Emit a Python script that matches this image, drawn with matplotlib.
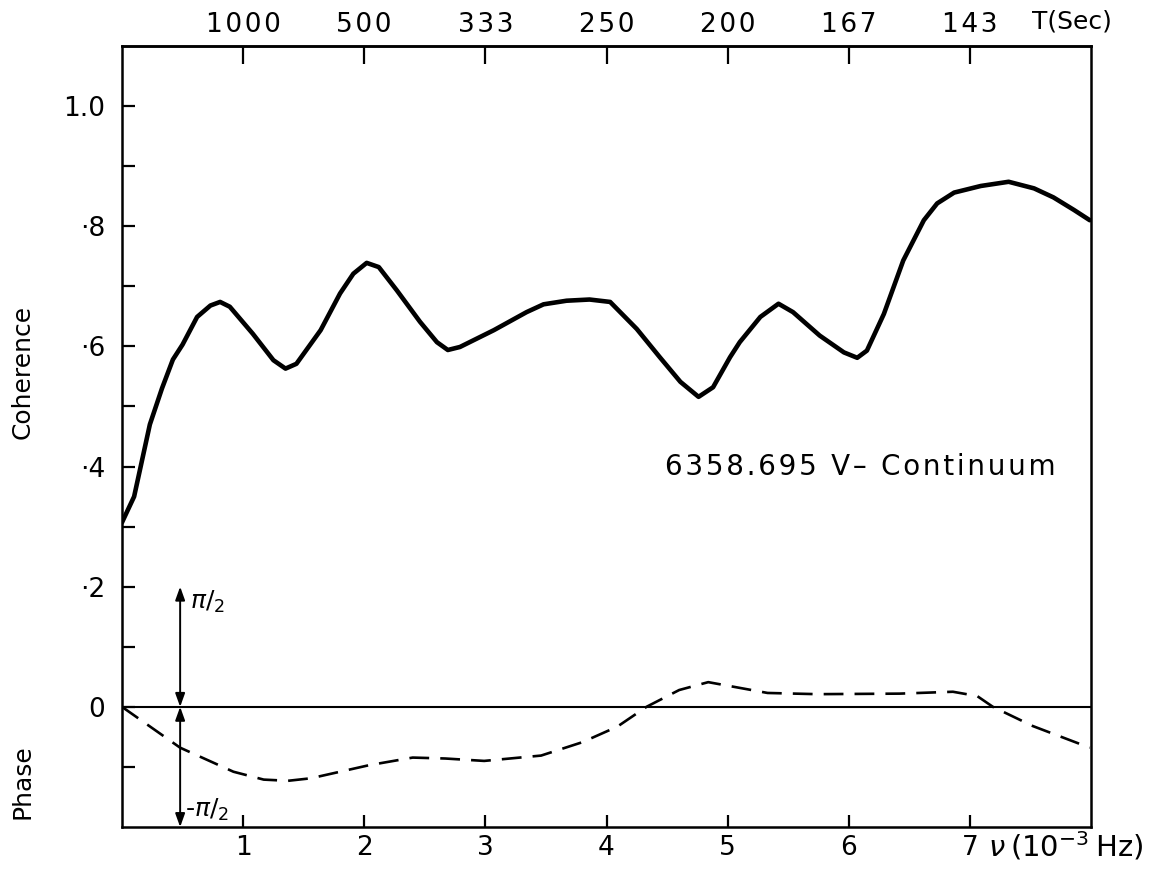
import matplotlib
matplotlib.use("Agg")
import matplotlib.pyplot as plt
import numpy as np

# ---- data ----
freq_coh = [0.00, 0.10, 0.23, 0.33, 0.42, 0.50, 0.62, 0.73, 0.81, 0.89, 1.08, 1.25, 1.35, 1.44,
            1.64, 1.80, 1.91, 2.02, 2.12, 2.27, 2.46, 2.60, 2.69, 2.79, 3.07, 3.34, 3.48,
            3.67, 3.86, 4.03, 4.25, 4.44, 4.61, 4.76, 4.88, 5.02, 5.10, 5.27, 5.42, 5.54,
            5.76, 5.96, 6.07, 6.15, 6.29, 6.45, 6.62, 6.73, 6.87, 7.09, 7.32, 7.53, 7.69,
            7.86, 7.99]
coherence = [0.307, 0.350, 0.470, 0.530, 0.578, 0.603, 0.649, 0.668, 0.674, 0.666, 0.621, 0.577,
             0.563, 0.571, 0.627, 0.688, 0.721, 0.739, 0.732, 0.693, 0.641, 0.607, 0.594, 0.599,
             0.627, 0.657, 0.670, 0.676, 0.678, 0.674, 0.629, 0.582, 0.541, 0.516, 0.532, 0.582,
             0.607, 0.649, 0.671, 0.657, 0.618, 0.590, 0.581, 0.593, 0.654, 0.743, 0.810, 0.838,
             0.856, 0.867, 0.874, 0.863, 0.848, 0.827, 0.810]

freq_phase = [0.00, 0.48, 0.92, 1.17, 1.37, 1.56, 2.04, 2.40, 2.67, 2.99, 3.46, 3.80, 4.09,
              4.33, 4.60, 4.84, 5.33, 5.74, 6.42, 6.86, 7.06, 7.19, 7.52, 7.99]
phase_deg = [0.0, -30.6, -48.6, -54.5, -55.4, -53.5, -43.7, -38.0, -38.7, -40.5, -36.5, -26.5, -14.8,
             0.0, 12.6, 18.5, 10.4, 9.5, 9.9, 11.3, 8.1, 0.0, -14.4, -30.6]

x_ticks = [1, 2, 3, 4, 5, 6, 7]
x_ticklabels = ["1", "2", "3", "4", "5", "6", "7"]
top_ticklabels = ["1000", "500", "333", "250", "200", "167", "143"]
y_major = [0.0, 0.2, 0.4, 0.6, 0.8, 1.0]
y_major_labels = ["0", "·2", "·4", "·6", "·8", "1.0"]
y_minor = [-0.1, 0.1, 0.3, 0.5, 0.7, 0.9]
series_label = "6358.695 V– Continuum"

PHASE_SCALE = 0.2 / 90.0   # 90 degrees (pi/2) spans 0.2 on the coherence axis


def spaced(s, sep="\u2009"):
    return sep.join(s)


plt.rcParams['font.family'] = ['DejaVu Sans']
fig = plt.figure(figsize=(11.68, 8.69), dpi=100)
ax = fig.add_axes([122/1168, 1 - 827/869, (1091-122)/1168, (827-46)/869])

ax.set_xlim(0, 8)
ax.set_ylim(-0.2, 1.1)

ax.plot(freq_coh, coherence, color='black', lw=3.3, solid_joinstyle='round', solid_capstyle='round')
ax.plot(freq_phase, np.array(phase_deg) * PHASE_SCALE, color='black', lw=1.9,
        dashes=(7.5, 4.2))
ax.axhline(0, color='black', lw=1.5)

# double arrows for +-pi/2
for end in (90, -90):
    ax.annotate("", xy=(0.48, end * PHASE_SCALE), xytext=(0.48, 0),
                arrowprops=dict(arrowstyle='<|-|>,head_length=0.5,head_width=0.18', color='black',
                                lw=1.4, mutation_scale=16, shrinkA=0, shrinkB=0))
ax.text(0.56, 0.175, r"$\pi/_{2}$", fontsize=18, ha='left', va='center')
ax.text(0.52, -0.172, r"-$\pi/_{2}$", fontsize=18, ha='left', va='center')

ax.text(4.48, 0.40, spaced(series_label, "\u200a"), fontsize=20, ha='left', va='center')

for s in ax.spines.values():
    s.set_linewidth(1.8)

ax.set_xticks(x_ticks)
ax.set_xticklabels(x_ticklabels, fontsize=19)
ax.set_yticks(y_major)
ax.set_yticklabels(y_major_labels, fontsize=19)
ax.set_yticks(y_minor, minor=True)
ax.tick_params(axis='both', which='both', direction='in', length=9, width=1.6)
ax.tick_params(axis='x', pad=6)
ax.tick_params(axis='y', pad=12)

secx = ax.secondary_xaxis('top')
secx.set_xticks(x_ticks)
secx.set_xticklabels([spaced(t, "\u200a") for t in top_ticklabels], fontsize=19)
secx.tick_params(direction='in', length=13, width=1.6, pad=6)
secx.spines['top'].set_linewidth(1.8)

fig.text(1112/1168, 1 - 22/869, "T(Sec)", fontsize=18, ha='right', va='center')
fig.text(988/1168, 1 - 846/869, "$\\nu$\u2009(10$^{-3}$\u2009Hz)", fontsize=21, ha='left', va='center')

fig.text(23/1168, 1 - 372/869, "Coherence", fontsize=18, rotation=90, ha='center', va='center')
fig.text(23/1168, 1 - 782/869, "Phase", fontsize=18, rotation=90, ha='center', va='center')

fig.savefig("out.png", dpi=100, facecolor='white')
